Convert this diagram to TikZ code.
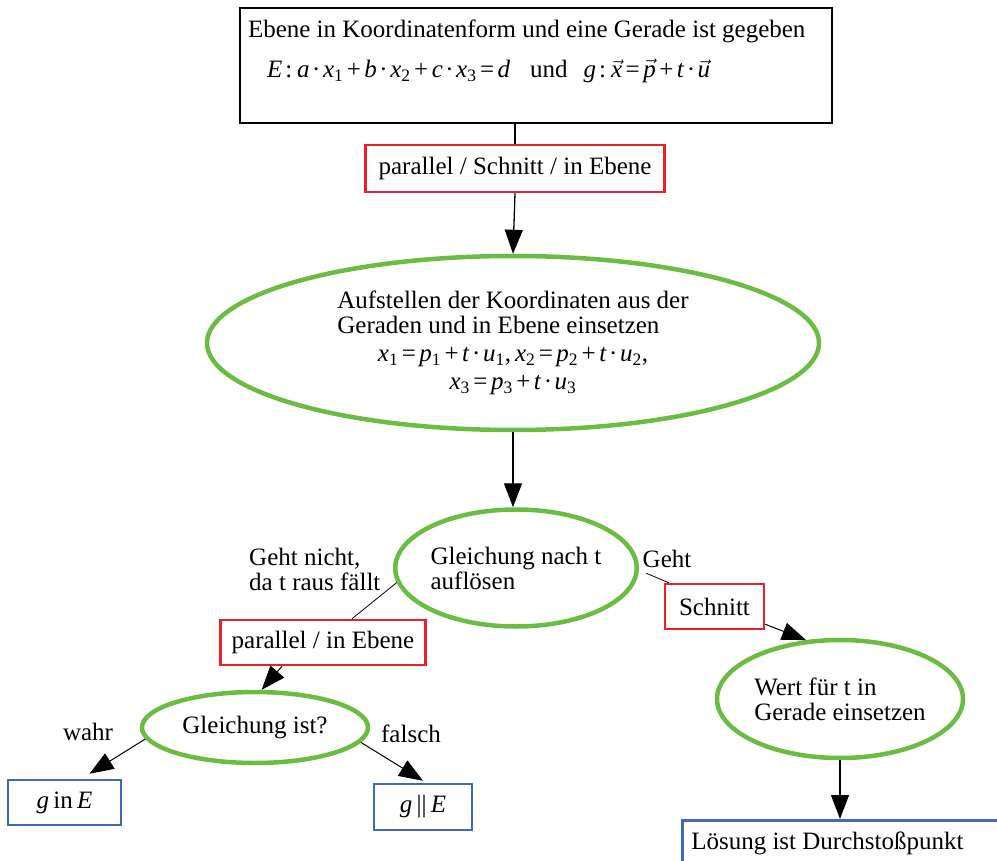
\documentclass[tikz,border=0pt]{standalone}
\usepackage{fontspec}
\setmainfont{Liberation Serif}
\usetikzlibrary{shapes.geometric,arrows.meta}
\definecolor{boxred}{RGB}{232,32,40}
\definecolor{ellgreen}{RGB}{108,188,68}
\definecolor{boxblue}{RGB}{66,104,182}
\newcommand{\vv}[1]{\ensuremath{\vec{\mbox{\itshape #1}}}}
\newcommand{\ivar}[2]{\textit{#1}\textsubscript{#2}}
\newcommand{\opp}{\kern3.5pt+\kern3.5pt}
\newcommand{\opeq}{\kern3.5pt=\kern3.5pt}
\newcommand{\opdot}{\kern2.5pt·\kern2.5pt}
\newcommand{\opcol}{\kern3pt:\kern5pt}
\begin{document}
\begin{tikzpicture}[
        x=1pt, y=-1pt,
        font=\fontsize{25}{25}\selectfont,
        given/.style={draw, rectangle, line width=1.2pt, inner sep=8pt},% starting box
        casebox/.style={draw=boxred, rectangle, line width=2.5pt},% case distinction
        stepell/.style={draw=ellgreen, ellipse, line width=4.5pt, inner sep=0pt},% working step
        result/.style={draw=boxblue, rectangle, line width=2.5pt},% final answer
        flow/.style={-{Triangle[length=24pt,width=18pt]}, line width=1.3pt},% arrow between steps
        thin/.style={line width=0.8pt},% plain link
        note/.style={align=left, inner sep=0pt},% label at a link
    ]
    \useasboundingbox (0,0) rectangle (997,861);
    \clip (0,0) rectangle (997,861);

    \node [given, minimum width=592, minimum height=115] (given) at (536,65.5)
        {\begin{minipage}[c][99pt][t]{576pt}\rule{0pt}{22pt}Ebene in Koordinatenform und eine Gerade ist gegeben\\[15pt]
        \hspace*{19pt}\textit{E}\opcol\textit{a}\opdot\ivar{x}{1}\opp\textit{b}\opdot\ivar{x}{2}\opp\textit{c}\opdot\ivar{x}{3}\opeq\textit{d}\hspace{20pt}und\hspace{16pt}\textit{g}\opcol\vv{x}\opeq\vv{p}\opp\textit{t}\opdot\vv{u}\end{minipage}};
    \node [casebox, minimum width=299, minimum height=47] (type) at (515,168.5) {parallel / Schnitt / in Ebene};
    \node [stepell, minimum width=612, minimum height=174, align=center] (insert) at (513,343)
        {\begin{tabular}{@{}l@{}}Aufstellen der Koordinaten aus der\\Geraden und in Ebene einsetzen\end{tabular}\\[6pt]
        \ivar{x}{1}\opeq\ivar{p}{1}\opp\textit{t}\opdot\ivar{u}{1},\hspace{4pt}\ivar{x}{2}\opeq\ivar{p}{2}\opp\textit{t}\opdot\ivar{u}{2},\\[3pt]
        \ivar{x}{3}\opeq\ivar{p}{3}\opp\textit{t}\opdot\ivar{u}{3}};
    \node [stepell, minimum width=232, minimum height=117, align=left] (solve) at (516,568) {Gleichung nach t\\auflösen};
    \node [casebox, minimum width=205, minimum height=45] (parin) at (323,642.5) {parallel / in Ebene};
    \node [casebox, minimum width=99, minimum height=45] (cut) at (714.5,606.5) {Schnitt};
    \node [stepell, minimum width=226, minimum height=71] (check) at (255,727.5) {Gleichung ist?};
    \node [stepell, minimum width=246, minimum height=118, align=left] (value) at (840,699) {Wert für t in\\Gerade einsetzen};
    \node [result, minimum width=113, minimum height=45] (inE) at (64.5,802.5) {\textit{g}\,in\,\textit{E}};
    \node [result, minimum width=98, minimum height=46] (parE) at (423,807) {\textit{g}\,||\,\textit{E}};
    \node [result, anchor=north west, inner sep=9pt] (point) at (681,819)
        {\begin{minipage}[c][38pt][t]{312pt}\rule{0pt}{20pt}Lösung ist Durchstoßpunkt\end{minipage}};

    % labels at the links
    \node [note, anchor=west] (notok) at (249,569) {Geht nicht,\\da t raus fällt};
    \node [note] (ok) at (667,559) {Geht};
    \node [note] (true) at (88,732) {wahr};
    \node [note] (false) at (411,734) {falsch};

    \draw [line width=1.3pt] (given.south -| type.north) -- (type.north);
    \draw [flow] (type.south) -- (insert.north);
    \draw [flow] (insert.south) -- (insert.south |- solve.north);
    \draw [thin] (solve.187) -- ([xshift=29pt]parin.north);
    \draw [thin, shorten <=8pt] (solve.-1) -- ([xshift=5pt]cut.north west);
    \draw [flow, line width=1pt] ([xshift=-41pt]parin.south) -- (check.80);
    \draw [flow, line width=1pt] ([yshift=6pt]cut.south east) -- (value.120);
    \draw [flow, line width=1pt] (check.186) -- ([xshift=25pt,yshift=5pt]inE.north);
    \draw [flow, line width=1pt] (check.-8) -- ([yshift=2pt]parE.north);
    \draw [flow] (value.south) -- (value.south |- point.north);
\end{tikzpicture}
\end{document}
